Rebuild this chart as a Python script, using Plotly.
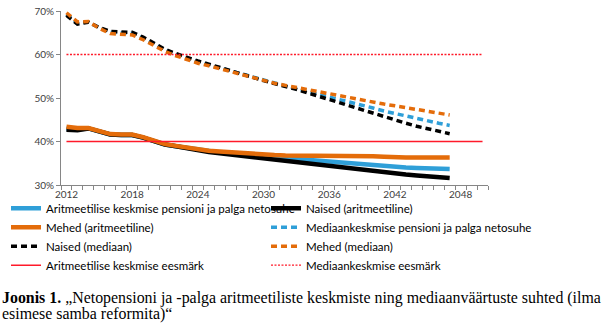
import plotly.graph_objects as go

# Years covered by the projections and by the target lines
years = list(range(2012, 2048))
target_years = list(range(2012, 2051))

# Net pension-to-wage ratios, %
arit_total = [43.0, 42.8, 43.0, 42.2, 41.6, 41.5, 41.5, 40.9, 40.0, 39.3, 38.9, 38.5, 38.1, 37.8, 37.5,
              37.3, 37.0, 36.8, 36.6, 36.4, 36.2, 36.0, 35.7, 35.5, 35.2, 35.0, 34.8, 34.6, 34.4, 34.3,
              34.1, 34.0, 33.9, 33.8, 33.7, 33.7]
arit_women = [42.7, 42.6, 43.0, 42.2, 41.6, 41.5, 41.5, 40.9, 40.0, 39.3, 38.9, 38.4, 38.0, 37.6, 37.3,
              37.0, 36.7, 36.5, 36.2, 36.0, 35.7, 35.4, 35.0, 34.7, 34.3, 34.1, 33.8, 33.5, 33.2, 32.9,
              32.6, 32.4, 32.2, 32.0, 31.8, 31.6]
arit_men = [43.4, 43.1, 43.1, 42.3, 41.7, 41.6, 41.6, 41.0, 40.1, 39.4, 39.0, 38.6, 38.2, 37.9, 37.7,
            37.5, 37.3, 37.2, 37.0, 36.9, 36.8, 36.8, 36.7, 36.7, 36.6, 36.6, 36.6, 36.6, 36.6, 36.5,
            36.3, 36.3, 36.3, 36.3, 36.3, 36.3]
med_total = [69.3, 67.2, 67.5, 66.1, 65.1, 65.0, 64.9, 63.8, 62.4, 61.0, 60.0, 59.1, 58.3, 57.6, 56.9,
             56.2, 55.4, 54.8, 54.0, 53.3, 52.8, 52.1, 51.5, 50.9, 50.3, 49.6, 49.0, 48.3, 47.7, 47.0,
             46.4, 45.8, 45.2, 44.7, 44.2, 43.7]
med_women = [69.0, 67.0, 67.4, 66.2, 65.3, 65.2, 65.1, 64.0, 62.6, 61.2, 60.2, 59.3, 58.5, 57.8, 57.0,
             56.3, 55.5, 54.8, 54.0, 53.3, 52.7, 52.0, 51.2, 50.4, 49.6, 48.8, 48.0, 47.2, 46.6, 45.7,
             44.8, 44.2, 43.5, 42.9, 42.3, 41.8]
med_men = [69.6, 67.5, 67.6, 66.0, 64.8, 64.6, 64.5, 63.4, 62.0, 60.7, 59.7, 58.8, 58.0, 57.4, 56.7,
           56.0, 55.3, 54.7, 54.0, 53.4, 52.9, 52.4, 51.9, 51.5, 51.1, 50.6, 50.1, 49.6, 49.1, 48.6,
           48.2, 47.8, 47.3, 46.9, 46.5, 46.1]
target_arit = [40.0] * len(target_years)
target_med = [60.0] * len(target_years)

x_tick_years = [2012, 2018, 2024, 2030, 2036, 2042, 2048]
y_tick_vals = [30, 40, 50, 60, 70]
y_tick_text = ["30%", "40%", "50%", "60%", "70%"]

BLUE = "#2f9fd8"
ORANGE = "#e46c0a"
BLACK = "#000000"
RED = "#ff1a2a"
DASH = "6px,4px"
DOT = "2px,1.5px"

# name, x, y, colour, width, dash, legend column
series = [
    ("Aritmeetilise keskmise pensioni ja palga netosuhe", years, arit_total, BLUE, 4.5, "solid", "legend"),
    ("Naised (aritmeetiline)", years, arit_women, BLACK, 4.5, "solid", "legend2"),
    ("Mehed (aritmeetiline)", years, arit_men, ORANGE, 4.5, "solid", "legend"),
    ("Mediaankeskmise pensioni ja palga netosuhe", years, med_total, BLUE, 3.5, DASH, "legend2"),
    ("Naised (mediaan)", years, med_women, BLACK, 3.5, DASH, "legend"),
    ("Mehed (mediaan)", years, med_men, ORANGE, 3.5, DASH, "legend2"),
    ("Aritmeetilise keskmise eesmärk", target_years, target_arit, RED, 1.5, "solid", "legend"),
    ("Mediaankeskmise eesmärk", target_years, target_med, RED, 1.3, DOT, "legend2"),
]

fig = go.Figure()
for name, xs, ys, color, width, dash, leg in series:
    fig.add_trace(go.Scatter(
        x=xs, y=ys, name=name, mode="lines",
        line=dict(color=color, width=width, dash=dash),
        legend=leg, hoverinfo="skip",
    ))

axis_font = dict(family="Lato, Noto Sans, sans-serif", size=10, color="#404040")
legend_font = dict(family="Lato, Noto Sans, sans-serif", size=11.5, color="#000000")
caption_font = dict(family="Liberation Serif, Times New Roman, serif", size=15.9, color="#000000")

legend_common = dict(
    orientation="v", yanchor="top", y=-0.05, xanchor="left",
    font=legend_font, traceorder="normal", bgcolor="rgba(0,0,0,0)",
    itemwidth=30,
)

fig.update_layout(
    width=604, height=326,
    margin=dict(l=61, r=116, t=11, b=141, autoexpand=False),
    paper_bgcolor="white", plot_bgcolor="white",
    showlegend=True,
    legend=dict(x=-55 / 427, **legend_common),
    legend2=dict(x=205 / 427, **legend_common),
    xaxis=dict(
        range=[2011.5, 2050.5],
        tickmode="array", tickvals=x_tick_years,
        ticks="", showgrid=False, zeroline=False,
        showline=True, linecolor="#868686", linewidth=1,
        tickfont=axis_font,
        minor=dict(tick0=2011.5, dtick=1, ticks="outside", ticklen=4,
                   tickcolor="#868686", showgrid=False),
    ),
    yaxis=dict(
        range=[30, 70],
        tickmode="array", tickvals=y_tick_vals, ticktext=y_tick_text,
        ticks="outside", ticklen=4, tickcolor="#868686",
        showgrid=False, zeroline=False,
        showline=True, linecolor="#868686", linewidth=1,
        tickfont=axis_font,
    ),
    annotations=[
        dict(
            xref="paper", yref="paper", x=-61 / 427, y=-(297.5 - 185) / 174,
            xanchor="left", yanchor="middle", showarrow=False, align="left",
            text="<b>Joonis 1.</b> „Netopensioni ja -palga aritmeetiliste keskmiste ning mediaanväärtuste suhted (ilma",
            font=caption_font,
        ),
        dict(
            xref="paper", yref="paper", x=-61 / 427, y=-(314 - 185) / 174,
            xanchor="left", yanchor="middle", showarrow=False, align="left",
            text="esimese samba reformita)“",
            font=caption_font,
        ),
    ],
)

fig.write_html("out.html")
